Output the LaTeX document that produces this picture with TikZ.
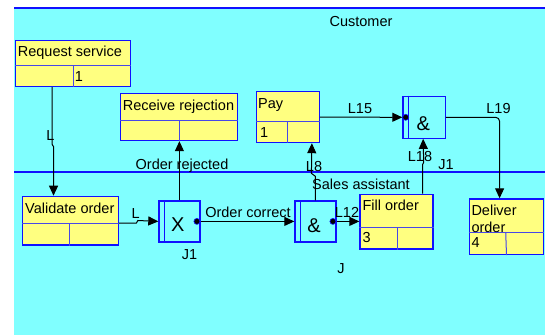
\documentclass[tikz,border=0pt]{standalone}
\usepackage{fontspec}
\setmainfont{Liberation Sans}
\usetikzlibrary{arrows.meta,calc}
\definecolor{lanebg}{HTML}{80FFFF}
\definecolor{boxfill}{HTML}{FFFF80}
\definecolor{boxline}{HTML}{1010FF}
\definecolor{cellcol}{HTML}{4848E8}
\begin{document}
\begin{tikzpicture}[x=1pt,y=-1pt,
  font=\fontsize{14.5}{17}\selectfont,
  actbox/.style={draw=boxline, fill=boxfill, line width=1.2pt, inner sep=0pt, anchor=north west},
  gatebox/.style={draw=boxline, line width=1.2pt, inner sep=0pt, anchor=north west},
  cell/.style={draw=cellcol, line width=1pt},
  laneline/.style={draw=boxline, line width=1.2pt},
  conn/.style={draw=black, line width=1pt},
  arr/.style={conn, -{Triangle[length=10pt,width=9pt]}},
  lbl/.style={inner sep=0pt, anchor=base},
  boxtxt/.style={inner sep=0pt, anchor=base west},
  gatesym/.style={font=\fontsize{20}{22}\selectfont, inner sep=0pt, anchor=base},
  gatedot/.style={circle, fill=black, draw=boxline, line width=0.6pt, inner sep=0pt, minimum size=6pt}]
\useasboundingbox (0,0) rectangle (545,335);
% lanes
\fill[white] (0,0) rectangle (545,335);
\fill[lanebg] (14,8) rectangle (545,335);
\draw[laneline] (14,8) -- (545,8);
\draw[laneline] (14,172) -- (545,172);
\node[lbl] (customer) at (361,26) {Customer};
\node[lbl] (sales) at (361,189) {Sales assistant};
% activity boxes
\node[actbox, minimum width=115pt, minimum height=46pt] (rs) at (15,40) {};
\node[actbox, minimum width=117pt, minimum height=47pt] (rr) at (120,93) {};
\node[actbox, minimum width=62.7pt, minimum height=51pt] (pay) at (256,91) {};
\node[actbox, minimum width=95.7pt, minimum height=48.6pt] (vo) at (22,195.7) {};
\node[actbox, minimum width=73pt, minimum height=54.6pt] (fo) at (359.3,193.7) {};
\node[actbox, minimum width=74pt, minimum height=55.7pt] (dlv) at (468.7,198.3) {};
% cell dividers
\draw[cell] ([yshift=-25pt]rs.north west) -- ([yshift=-25pt]rs.north east);
\draw[cell] ([xshift=58pt,yshift=-25pt]rs.north west) -- ([xshift=58pt]rs.south west);
\draw[cell] ([yshift=-27pt]rr.north west) -- ([yshift=-27pt]rr.north east);
\draw[cell] ([xshift=59pt,yshift=-27pt]rr.north west) -- ([xshift=59pt]rr.south west);
\draw[cell] ([yshift=-30pt]pay.north west) -- ([yshift=-30pt]pay.north east);
\draw[cell] ([xshift=31.7pt,yshift=-30pt]pay.north west) -- ([xshift=31.7pt]pay.south west);
\draw[cell] ([yshift=-27.3pt]vo.north west) -- ([yshift=-27.3pt]vo.north east);
\draw[cell] ([xshift=47.3pt,yshift=-27.3pt]vo.north west) -- ([xshift=47.3pt]vo.south west);
\draw[cell] ([yshift=-33.3pt]fo.north west) -- ([yshift=-33.3pt]fo.north east);
\draw[cell] ([xshift=37.7pt,yshift=-33.3pt]fo.north west) -- ([xshift=37.7pt]fo.south west);
\draw[cell] ([yshift=-33.7pt]dlv.north west) -- ([yshift=-33.7pt]dlv.north east);
\draw[cell] ([xshift=37pt,yshift=-33.7pt]dlv.north west) -- ([xshift=37.8pt]dlv.south west);
% box texts
\node[boxtxt] (trs) at (17.7,56.7) {Request service};
\node[boxtxt] (trs1) at (74.7,81) {1};
\node[boxtxt] (trr) at (122.7,110.7) {Receive rejection};
\node[boxtxt] (tpay) at (258,108) {Pay};
\node[boxtxt] (tpay1) at (260,137.7) {1};
\node[boxtxt] (tvo) at (25,213.3) {Validate order};
\node[boxtxt] (tfo) at (362.3,210.7) {Fill order};
\node[boxtxt] (tfo3) at (362.3,242.7) {3};
\node[boxtxt] (tdlv) at (471.3,215) {Deliver};
\node[boxtxt] (tdlv2) at (471.3,232.3) {order};
\node[boxtxt] (tdlv4) at (471.3,247.7) {4};
% gates
\node[gatebox, minimum width=42.4pt, minimum height=42pt] (ag1) at (402.3,95.7) {};
\node[gatebox, minimum width=41pt, minimum height=41pt] (xg) at (158.3,200.3) {};
\node[gatebox, minimum width=41pt, minimum height=41pt] (ag2) at (294.3,200.3) {};
\draw[cell, draw=boxline] ([xshift=6pt]ag1.north west) -- ([xshift=6pt]ag1.south west);
\draw[cell, draw=boxline] ([xshift=5.7pt]xg.north west) -- ([xshift=5.7pt]xg.south west);
\draw[cell, draw=boxline] ([xshift=6pt]ag2.north west) -- ([xshift=6pt]ag2.south west);
\node[gatesym] (sag1) at (423.3,130) {\&};
\node[gatesym] (sxg) at (177.7,231) {X};
\node[gatesym] (sag2) at (314,232.5) {\&};
% connectors
\draw[arr] ([xshift=37pt]rs.south west) -- ++(0,57) -- ++(1.6,2.5) -- ([xshift=31.5pt]vo.north west);
\draw[arr] ([yshift=-27.3pt]vo.north east) -- ++(17.5,0) -- ++(1.5,-2.5) -- (xg.west);
\draw[arr] (xg.north) -- (xg.north |- rr.south);
\draw[arr] (xg.east) -- (ag2.west);
\draw[arr] (ag2.east) -- (ag2.east -| fo.west);
\draw[arr] (ag2.north) -- ++(0,-24) -- ++(-4,-3) -- ([xshift=-8pt]pay.south east);
\draw[arr] ([xshift=-11pt]fo.north east) -- ++(0,-29) -- ++(1.2,-2.5) -- ([xshift=-1pt]ag1.south);
\draw[arr] (pay.east) -- (ag1.west);
\draw[arr, rounded corners=4pt] (ag1.east) -| ([xshift=-6.7pt]dlv.north);
% gate dots
\node[gatedot] (d1) at ([xshift=3.4pt]ag1.west) {};
\node[gatedot] (d2) at ([xshift=-3.6pt]xg.east) {};
\node[gatedot] (d3) at ([xshift=-3.6pt]ag2.east) {};
% connector labels
\node[lbl] (lL1) at (50.5,140) {L};
\node[lbl] (lL2) at (135.7,218) {L};
\node[lbl] (lrej) at (182,169) {Order rejected};
\node[lbl] (lcor) at (248,217.5) {Order correct};
\node[lbl] (lJ1a) at (189.5,259) {J1};
\node[lbl] (lL8) at (314,171) {L8};
\node[lbl] (lL12) at (347,217.3) {L12};
\node[lbl] (lL15) at (360,113.3) {L15};
\node[lbl] (lL18) at (420,161.7) {L18};
\node[lbl] (lJ1b) at (446,169) {J1};
\node[lbl] (lL19) at (498.5,113.3) {L19};
\node[lbl] (lJ) at (341,273.3) {J};
\end{tikzpicture}
\end{document}
